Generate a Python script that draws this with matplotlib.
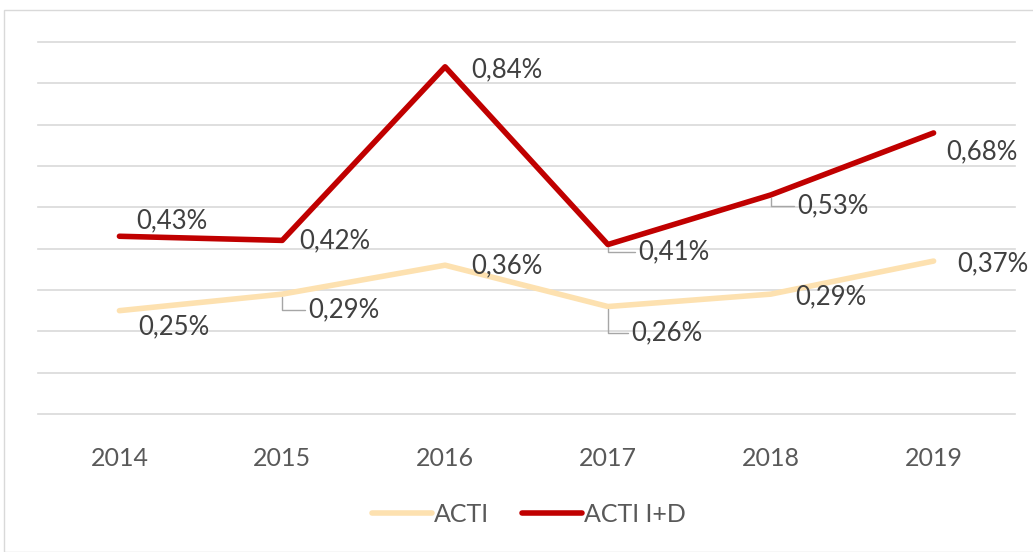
import numpy as np
import matplotlib
matplotlib.use("Agg")
import matplotlib.pyplot as plt
from matplotlib.patches import Rectangle

plt.rcParams['font.family'] = ['Lato', 'DejaVu Sans']

years = ['2014', '2015', '2016', '2017', '2018', '2019']
acti = [0.25, 0.29, 0.36, 0.26, 0.29, 0.37]
acti_id = [0.43, 0.42, 0.84, 0.41, 0.53, 0.68]

# label offsets in pixels (dx, dy) and whether a leader line is drawn
acti_off = [(19, -16), (26, -16), (26, -1), (23, -26), (25, -3), (24, -3)]
acti_lead = [False, True, False, True, False, False]
id_off = [(17, 15), (17, 0), (26, -3), (30, -7), (26, -11), (13, -19)]
id_lead = [False, False, False, True, True, False]

W, H = 1033, 552
fig = plt.figure(figsize=(W / 100, H / 100), dpi=100)
fig.patches.append(Rectangle((4 / W, 0), 1, 1 - 10 / H, transform=fig.transFigure,
                             fill=False, edgecolor='#d9d9d9', linewidth=1))
ax = fig.add_axes([38 / W, 1 - 414 / H, (1015 - 38) / W, (414 - 42) / H])

x = np.arange(len(years))
ax.plot(x, acti, color='#fde1b0', lw=4, solid_capstyle='round', label='ACTI', zorder=3)
ax.plot(x, acti_id, color='#c00000', lw=4, solid_capstyle='round', label='ACTI I+D', zorder=3)

ax.set_xlim(-0.5, 5.5)
ax.set_ylim(0, 0.9)
ax.set_yticks(np.arange(0, 0.91, 0.1))
ax.yaxis.grid(True, color='#d9d9d9', lw=1.2, clip_on=False)
ax.set_axisbelow(True)
ax.tick_params(axis='y', left=False, labelleft=False)
ax.set_xticks(x)
ax.set_xticklabels(years)
ax.tick_params(axis='x', bottom=False, pad=20, labelsize=18, labelcolor='#595959')
for s in ax.spines.values():
    s.set_visible(False)


def fmt(v):
    return ('%.2f' % v).replace('.', ',') + '%'


def put_labels(vals, offs, leads):
    for i, v in enumerate(vals):
        dx, dy = offs[i]
        kw = {}
        if leads[i]:
            kw['arrowprops'] = dict(arrowstyle='-', color='#a6a6a6', lw=1,
                                    shrinkA=0, shrinkB=2,
                                    connectionstyle='angle,angleA=0,angleB=90,rad=0',
                                    relpos=(0, 0.5))
        ax.annotate(fmt(v), (x[i], v), xytext=(dx, dy), textcoords='offset pixels',
                    ha='left', va='center', fontsize=18.5, color='#404040', zorder=4, **kw)


put_labels(acti, acti_off, acti_lead)
put_labels(acti_id, id_off, id_lead)

fig.legend(loc='center', bbox_to_anchor=(529 / W, 1 - 514 / H), ncol=2, frameon=False,
           fontsize=18, labelcolor='#595959', handlelength=2.4, handletextpad=0.1,
           columnspacing=1.3)

fig.savefig('out.png', dpi=100, facecolor='white')
